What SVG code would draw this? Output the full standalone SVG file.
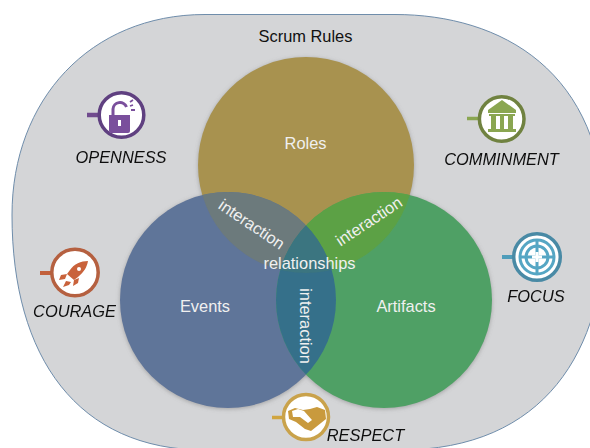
<svg xmlns="http://www.w3.org/2000/svg" width="590" height="448" viewBox="0 0 590 448">
<style>
text{font-family:"Liberation Sans",Arial,sans-serif;font-size:16.400px}
.w{fill:#f0f0f0;text-anchor:middle}
.k{fill:#111;text-anchor:middle;font-style:italic}
.b{fill:#fff;stroke-width:3.500}
.halo{fill:#777;opacity:.55}
</style>
<defs>
<filter id="soft" x="-10%" y="-10%" width="120%" height="120%"><feGaussianBlur stdDeviation="0.600"/></filter>
<filter id="sh" x="-10%" y="-10%" width="120%" height="120%"><feGaussianBlur stdDeviation="2"/></filter>
<filter id="sm" x="-10%" y="-10%" width="120%" height="120%"><feGaussianBlur stdDeviation="0.400"/></filter>
<clipPath id="cr"><circle cx="306" cy="165" r="108"/></clipPath>
<clipPath id="ce"><circle cx="228" cy="300" r="108"/></clipPath>
<clipPath id="ca"><circle cx="384" cy="300" r="108"/></clipPath>
</defs>
<path id="boundary" d="M12 215C12 100 90 14.500 205 14.500H395C500 14.500 605 70 605 225C605 350 545 450 400 450H205C78 450 12 358 12 215Z" fill="#d4d5d7" stroke="#6f8dab" stroke-width="1"/>
<text x="305.500" y="42" text-anchor="middle" fill="#111">Scrum Rules</text>
<g id="venn">
<g filter="url(#sh)"><circle class="halo" cx="306" cy="166" r="108"/><circle class="halo" cx="228" cy="301" r="108"/><circle class="halo" cx="384" cy="301" r="108"/></g>
<g filter="url(#soft)">
<circle cx="306" cy="165" r="108" fill="#a8924f"/>
<circle cx="228" cy="300" r="108" fill="#5f7499"/>
<circle cx="384" cy="300" r="108" fill="#50a065"/>
<g clip-path="url(#cr)"><circle cx="228" cy="300" r="108" fill="#6c7a7b"/><circle cx="384" cy="300" r="108" fill="#5ba145"/></g>
<g clip-path="url(#ce)"><circle cx="384" cy="300" r="108" fill="#35708a"/></g>
<g clip-path="url(#cr)"><g clip-path="url(#ce)"><circle cx="384" cy="300" r="108" fill="#3b7480"/></g></g>
</g>
</g>
<g id="labels">
<text class="w" x="305.500" y="149">Roles</text>
<text class="w" x="205" y="312">Events</text>
<text class="w" x="406" y="312">Artifacts</text>
<text class="w" x="309.500" y="268.500">relationships</text>
<text class="w" transform="translate(248.500,229) rotate(34)">interaction</text>
<text class="w" transform="translate(372,226) rotate(-33.500)">interaction</text>
<text class="w" transform="translate(300,326) rotate(90)">interaction</text>
</g>
<g id="openness" filter="url(#sm)">
<path d="M87 115H98" stroke="#6f4b8e" stroke-width="4.500" fill="none"/>
<circle class="b" cx="121.500" cy="115" r="22.300" stroke="#5f3f80"/>
<path d="M109 115h21v16a2 2 0 0 1-2 2h-17a2 2 0 0 1-2-2z" fill="#7a4f9c"/>
<path d="M113 115v-6a7 7 0 0 1 13.500-2" fill="none" stroke="#7a4f9c" stroke-width="3"/>
<path d="M130 106l3-1M131 110h4M130 102l3-2" stroke="#7a4f9c" stroke-width="1.800" fill="none"/>
<path d="M118 120h3v6h-3z" fill="#fff"/>
<text class="k" x="121" y="163">OPENNESS</text>
</g>
<g id="comminment" filter="url(#sm)">
<path d="M467 118.500H478" stroke="#8aa651" stroke-width="3.500" fill="none"/>
<circle class="b" cx="501.700" cy="119" r="22.300" stroke="#6f8240"/>
<path d="M502 100l14 10v3h-28v-3z" fill="#8aa651"/>
<path d="M491 115h5v14h-5zM500 115h4v14h-4zM508 115h5v14h-5z" fill="#8aa651"/>
<path d="M488 129h28v3h-28zM489 114h26v2h-26z" fill="#8aa651"/>
<text class="k" x="501.500" y="165">COMMINMENT</text>
</g>
<g id="courage" filter="url(#sm)">
<path d="M40 273H52" stroke="#c2603a" stroke-width="4" fill="none"/>
<circle class="b" cx="75" cy="272.500" r="23.200" stroke="#b5603f"/>
<path d="M88 261c-7 0-14 3-18 9l-3 4 7 6 4-3c6-5 9-10 10-16z" fill="#c9623a"/>
<path d="M67 274l-6 1-2 5 6-1zM74 280l-1 6 5-3 1-5zM66 281l-3 6 6-2 2-3z" fill="#c9623a"/>
<circle cx="79" cy="269" r="2" fill="#fff"/>
<text class="k" x="74.500" y="317">COURAGE</text>
</g>
<g id="focus" filter="url(#sm)">
<path d="M502 257H514" stroke="#4f9dba" stroke-width="4" fill="none"/>
<circle class="b" cx="537" cy="257" r="23.300" stroke="#4a8aa5"/>
<circle cx="537" cy="257" r="17" fill="none" stroke="#55a6c4" stroke-width="3"/>
<circle cx="537" cy="257" r="11" fill="none" stroke="#55a6c4" stroke-width="3"/>
<path d="M537 240v34M520 257h34" stroke="#55a6c4" stroke-width="3" fill="none"/>
<path d="M537 252v10M532 257h10" stroke="#fff" stroke-width="3" fill="none"/>
<text class="k" x="536" y="302">FOCUS</text>
</g>
<g id="respect" filter="url(#sm)">
<path d="M272 417.500H283" stroke="#d0a540" stroke-width="3.500" fill="none"/>
<circle class="b" cx="306" cy="417" r="22.500" stroke="#c9a24b" stroke-width="3"/>
<path d="M288 411l7-3 8 2 7-1 7-2 8 3 1 9-10 8-5 4-6-2-9-7-7-3z" fill="#c99a3c"/>
<path d="M292 411l6-2 6 2 8 9-4 3-8-6-7 0z" fill="#fff"/>
<text x="365.500" y="441" text-anchor="middle" font-style="italic" fill="#111">RESPECT</text>
</g>
</svg>
